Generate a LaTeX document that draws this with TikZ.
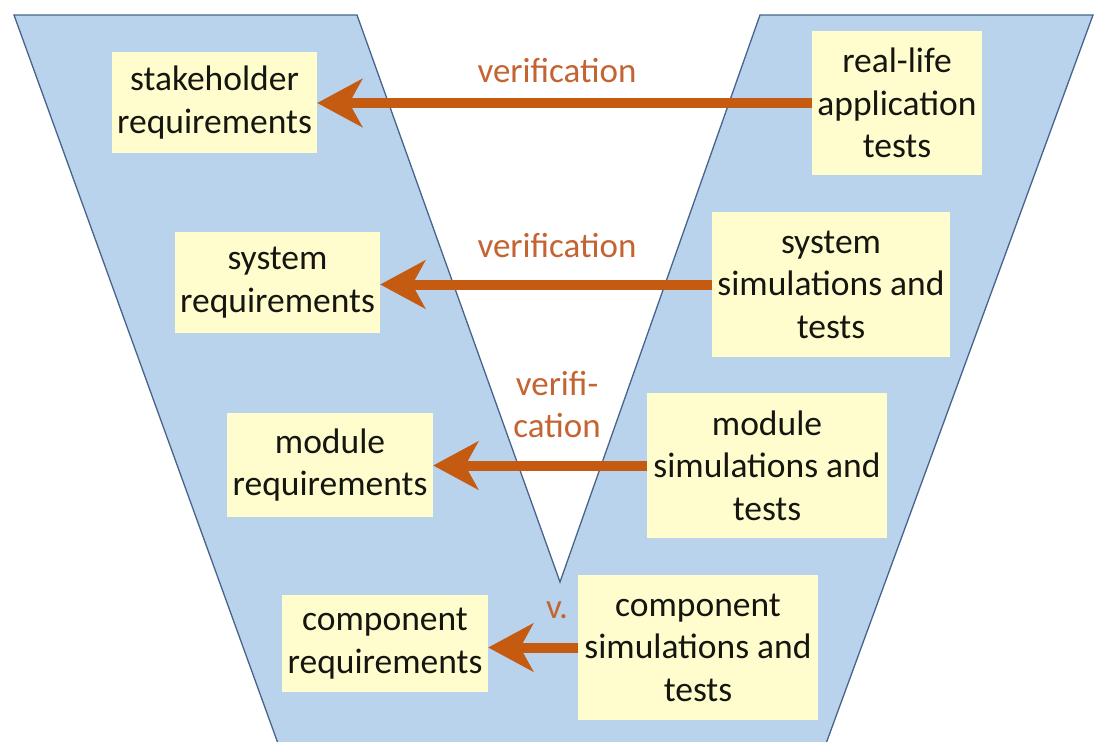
\documentclass[tikz,border=0pt]{standalone}
\usepackage{fontspec}
\setmainfont{Carlito}
\usetikzlibrary{arrows.meta}
\definecolor{vblue}{RGB}{185,211,237}
\definecolor{vedge}{RGB}{72,100,140}
\definecolor{boxfill}{RGB}{255,253,206}
\definecolor{arrowc}{RGB}{197,90,17}
\definecolor{labelc}{RGB}{196,100,50}
\definecolor{textc}{RGB}{22,22,16}
\tikzset{
  stagebox/.style={fill=boxfill, draw=none, inner sep=0pt, align=center,
    text=textc, font=\fontsize{35.5}{42.5}\selectfont},
  verarrow/.style={draw=arrowc, line width=10pt,
    -{Stealth[length=45pt,width=48pt,inset=13pt]}},
  verlabel/.style={text=labelc, font=\fontsize{35}{42}\selectfont,
    anchor=base, inner sep=0pt, align=center}
}
\begin{document}
\begin{tikzpicture}[x=1pt,y=-1pt]
\useasboundingbox (0,0) rectangle (1096,742);
\fill[white] (0,0) rectangle (1096,742);

% the V band, open at the bottom edge
\filldraw[fill=vblue, draw=vedge, line width=1.3pt, line join=miter]
  (14,15) -- (357,15) -- (560,582) -- (760,15) -- (1093,15)
  -- (820,760) -- (284,760) -- cycle;

% left arm: requirements
\node[stagebox, minimum width=205pt, minimum height=101pt] (stake) at (214.5,102.5) {stakeholder\\requirements};
\node[stagebox, minimum width=205pt, minimum height=101pt] (sysreq) at (277.5,282.5) {system\\requirements};
\node[stagebox, minimum width=206pt, minimum height=104pt] (modreq) at (330,465) {module\\requirements};
\node[stagebox, minimum width=206pt, minimum height=97pt] (compreq) at (385,643.5) {component\\requirements};

% right arm: tests
\node[stagebox, minimum width=170pt, minimum height=144pt] (real) at (897,103) {real-life\\application\\tests};
\node[stagebox, minimum width=238pt, minimum height=145pt] (syssim) at (831,284.5) {system\\simulations and\\tests};
\node[stagebox, minimum width=240pt, minimum height=145pt] (modsim) at (767,465.5) {module\\simulations and\\tests};
\node[stagebox, minimum width=240pt, minimum height=145pt] (compsim) at (698,647.5) {component\\simulations and\\tests};

% verification arrows
\draw[verarrow] (real.west) -- (real.west -| stake.east);
\draw[verarrow] (syssim.west) -- (syssim.west -| sysreq.east);
\draw[verarrow] (modsim.west) -- (modsim.west -| modreq.east);
\draw[verarrow] (compsim.west) -- (compsim.west -| compreq.east);

% labels (base of a two-line label is its last line)
\node[verlabel] (v1) at (557,82) {verification};
\node[verlabel] (v2) at (557,257) {verification};
\node[verlabel] (v3) at (557,437) {verifi-\\cation};
\node[verlabel] (v4) at (557,618) {v.};
\end{tikzpicture}
\end{document}
